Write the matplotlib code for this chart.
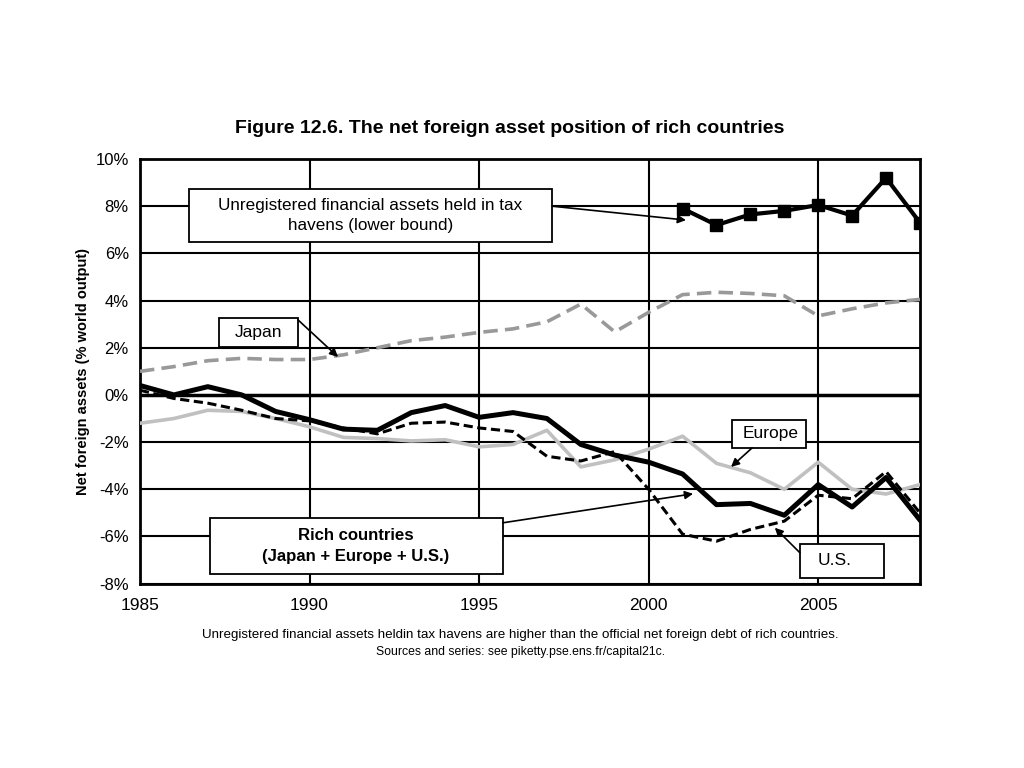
import matplotlib.pyplot as plt
from matplotlib.patches import Rectangle

plt.rcParams['font.family'] = ['Liberation Sans', 'DejaVu Sans']

# Dane (% produktu swiatowego)
years = list(range(1985, 2009))
rich = [0.4, 0.0, 0.35, 0.0, -0.7, -1.05, -1.45, -1.5, -0.75, -0.45, -0.95, -0.75,
        -1.0, -2.1, -2.55, -2.85, -3.35, -4.65, -4.6, -5.1, -3.8, -4.75, -3.5, -5.3]
us = [0.2, -0.15, -0.35, -0.65, -1.0, -1.1, -1.4, -1.65, -1.2, -1.15, -1.4, -1.55,
      -2.6, -2.8, -2.4, -4.0, -5.9, -6.2, -5.7, -5.35, -4.25, -4.4, -3.25, -5.0]
japan = [1.0, 1.2, 1.45, 1.55, 1.5, 1.5, 1.7, 2.0, 2.3, 2.45, 2.65, 2.8,
         3.1, 3.85, 2.67, 3.5, 4.25, 4.35, 4.3, 4.2, 3.35, 3.65, 3.9, 4.05]
europe = [-1.2, -1.0, -0.65, -0.7, -1.0, -1.35, -1.8, -1.85, -1.95, -1.9, -2.2, -2.1,
          -1.5, -3.05, -2.75, -2.3, -1.75, -2.9, -3.3, -4.0, -2.85, -4.0, -4.2, -3.8]
haven_years = list(range(2001, 2009))
havens = [7.9, 7.2, 7.65, 7.8, 8.05, 7.6, 9.2, 7.3]

fig = plt.figure(figsize=(10.24, 7.68), dpi=100)
ax = fig.add_axes([0.1367, 0.240, 0.7617, 0.553])

# Siatka
for v in range(-8, 11, 2):
    ax.axhline(v, color='black', lw=1.5 if v != 0 else 2.5, zorder=1)
for yr in range(1990, 2006, 5):
    ax.axvline(yr, color='black', lw=1.5, zorder=1)

# Serie
ax.plot(years, europe, color='#c0c0c0', lw=2.6, zorder=3)
ax.plot(years, japan, color='#999999', lw=2.6, ls=(0, (4, 2)), zorder=3)
ax.plot(years, us, color='black', lw=2.2, ls=(0, (3, 1.5)), zorder=4)
ax.plot(years, rich, color='black', lw=3.6, zorder=5)
ax.plot(haven_years, havens, color='black', lw=3, marker='s', ms=8, zorder=5)

ax.set_xlim(1985, 2008)
ax.set_ylim(-8, 10)
ax.set_xticks(range(1985, 2006, 5))
ax.set_yticks(range(-8, 11, 2))
ax.set_yticklabels([f'{v}%' for v in range(-8, 11, 2)])
ax.tick_params(length=0, labelsize=12, pad=8)
ax.tick_params(axis='x', labelsize=12.5, pad=10)
for s in ax.spines.values():
    s.set_linewidth(2)

ax.set_ylabel('Net foreign assets (% world output)', fontsize=10.5, fontweight='bold', labelpad=4)
fig.text(0.498, 0.833, 'Figure 12.6. The net foreign asset position of rich countries',
         ha='center', va='center', fontsize=14, fontweight='bold')


# Ramki z podpisami i strzalkami
def label(text, x0, x1, y0, y1, tx, ty, start, end, ha='center', **kw):
    ax.add_patch(Rectangle((x0, y0), x1 - x0, y1 - y0, fc='white', ec='black', lw=1.3, zorder=6))
    ax.text(tx, ty, text, ha=ha, va='center', zorder=7, linespacing=1.45, **kw)
    ax.annotate('', xy=end, xytext=start, zorder=7,
                arrowprops=dict(arrowstyle='-|>', color='black', lw=1.2, mutation_scale=12,
                                shrinkA=0, shrinkB=0))


label('Unregistered financial assets held in tax\nhavens (lower bound)',
      1986.45, 1997.15, 6.48, 8.72, 1991.8, 7.6, (1997.15, 8.0), (2001.1, 7.41), fontsize=12.3)
label('Japan', 1987.33, 1989.66, 2.03, 3.26, 1988.5, 2.65, (1989.66, 3.18), (1990.84, 1.61),
      fontsize=12.5)
label('Europe', 2002.46, 2004.64, -2.245, -1.06, 2003.6, -1.65, (2003.05, -2.245),
      (2002.43, -3.05), fontsize=12.5)
label('U.S.', 2004.46, 2006.94, -7.75, -6.31, 2004.99, -7.03, (2004.46, -6.69),
      (2003.72, -5.63), ha='left', fontsize=12.5)
label('Rich countries\n(Japan + Europe + U.S.)', 1987.06, 1995.70, -7.58, -5.21,
      1991.37, -6.40, (1995.70, -5.42), (2001.31, -4.19), fontsize=12.1, fontweight='bold')

fig.text(0.508, 0.173, 'Unregistered financial assets heldin tax havens are higher than the '
         'official net foreign debt of rich countries.', ha='center', va='center', fontsize=9.6)
fig.text(0.508, 0.151, 'Sources and series: see piketty.pse.ens.fr/capital21c.',
         ha='center', va='center', fontsize=8.8)

fig.savefig('out.png', dpi=100)
